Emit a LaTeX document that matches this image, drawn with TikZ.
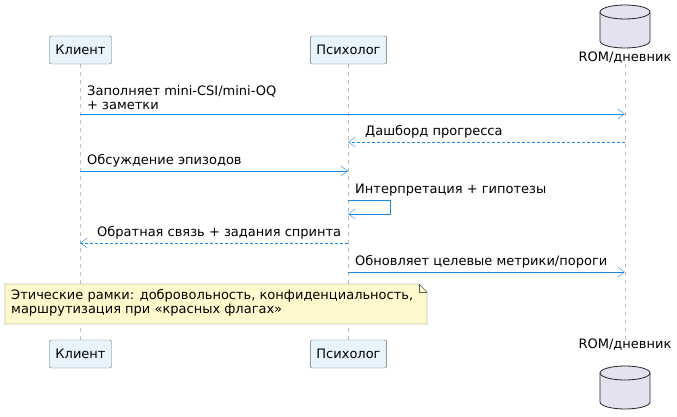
\documentclass[tikz,border=0pt]{standalone}
\usepackage{fontspec}
\setmainfont{DejaVu Sans}
\usetikzlibrary{arrows.meta,shapes.geometric}
\definecolor{arr}{HTML}{1E88E5}
\definecolor{pfill}{HTML}{E8F4FC}
\definecolor{dbfill}{HTML}{E2E2F0}
\definecolor{notefill}{HTML}{FFFACD}
\tikzset{x=1pt,y=-1pt,
 part/.style={draw=gray!80!black,fill=pfill,rounded corners=2pt,minimum height=28pt,inner xsep=6pt,font=\fontsize{13}{14}\selectfont},
 life/.style={draw=gray!50,dashed,dash pattern=on 4pt off 4pt},
 msg/.style={draw=arr,-{Straight Barb[length=7pt,width=10pt]}},
 rmsg/.style={msg,dash pattern=on 3pt off 2pt},
 lbl/.style={font=\fontsize{13}{14.5}\selectfont,anchor=south west,inner sep=1pt},
 db/.style={draw=black!85,thick,fill=dbfill}}
\newcommand{\dbcyl}[3]{% x, top y, bottom y
 \filldraw[db] (#1-25,#2) -- (#1-25,#3) arc[start angle=180,end angle=0,x radius=25,y radius=7] -- (#1+25,#2);
 \filldraw[db] (#1,#2) ellipse[x radius=25,y radius=7];}
\begin{document}
\begin{tikzpicture}
\useasboundingbox (0,0) rectangle (677,417);
\coordinate (cT) at (80,64); \coordinate (cB) at (80,340);
\coordinate (pT) at (348,64); \coordinate (pB) at (348,340);
\coordinate (rT) at (625,64); \coordinate (rB) at (625,340);
\draw[life] (cT)--(cB); \draw[life] (pT)--(pT|-pB); \draw[life] (rT)--(rB);
\node[part] (c1) at (80.5,50) {Клиент};
\node[part] (p1) at (348.5,50) {Психолог};
\node[part] (c2) at (80.5,354) {Клиент};
\node[part] (p2) at (348.5,354) {Психолог};
\dbcyl{625}{12}{41}
\node[font=\fontsize{13}{14}\selectfont] (r1) at (625,58) {ROM/дневник};
\node[font=\fontsize{13}{14}\selectfont] (r2) at (625,345) {ROM/дневник};
\dbcyl{625}{373}{402}
% messages
\coordinate (a1) at (80,114); \coordinate (b1) at (625,114);
\draw[msg] (a1)--(b1);
\node[lbl,align=left,anchor=south west] at (86,111) {Заполняет mini-CSI/mini-OQ\\+ заметки};
\coordinate (a2) at (625,142); \coordinate (b2) at (348,142);
\draw[rmsg] (a2)--(b2);
\node[lbl] at (364,139) {Дашборд прогресса};
\coordinate (a3) at (80,171); \coordinate (b3) at (348,171);
\draw[msg] (a3)--(b3);
\node[lbl] at (86,168) {Обсуждение эпизодов};
\coordinate (a4) at (348,200); \coordinate (b4) at (348,214);
\draw[msg] (a4)--(390,200)--(390,214)--(b4);
\node[lbl] at (354,197) {Интерпретация + гипотезы};
\coordinate (a5) at (348,243); \coordinate (b5) at (80,243);
\draw[rmsg] (a5)--(b5);
\node[lbl] at (96,240) {Обратная связь + задания спринта};
\coordinate (a6) at (348,272); \coordinate (b6) at (625,272);
\draw[msg] (a6)--(b6);
\node[lbl] at (354,269) {Обновляет целевые метрики/пороги};
% note
\filldraw[draw=gray!70!black,fill=notefill] (5,284)--(419,284)--(427,292)--(427,324)--(5,324)--cycle;
\draw[gray!70!black] (419,284)--(419,292)--(427,292);
\node[lbl,align=left,anchor=north west] (note) at (10,288) {Этические рамки: добровольность, конфиденциальность,\\маршрутизация при «красных флагах»};
\end{tikzpicture}
\end{document}
